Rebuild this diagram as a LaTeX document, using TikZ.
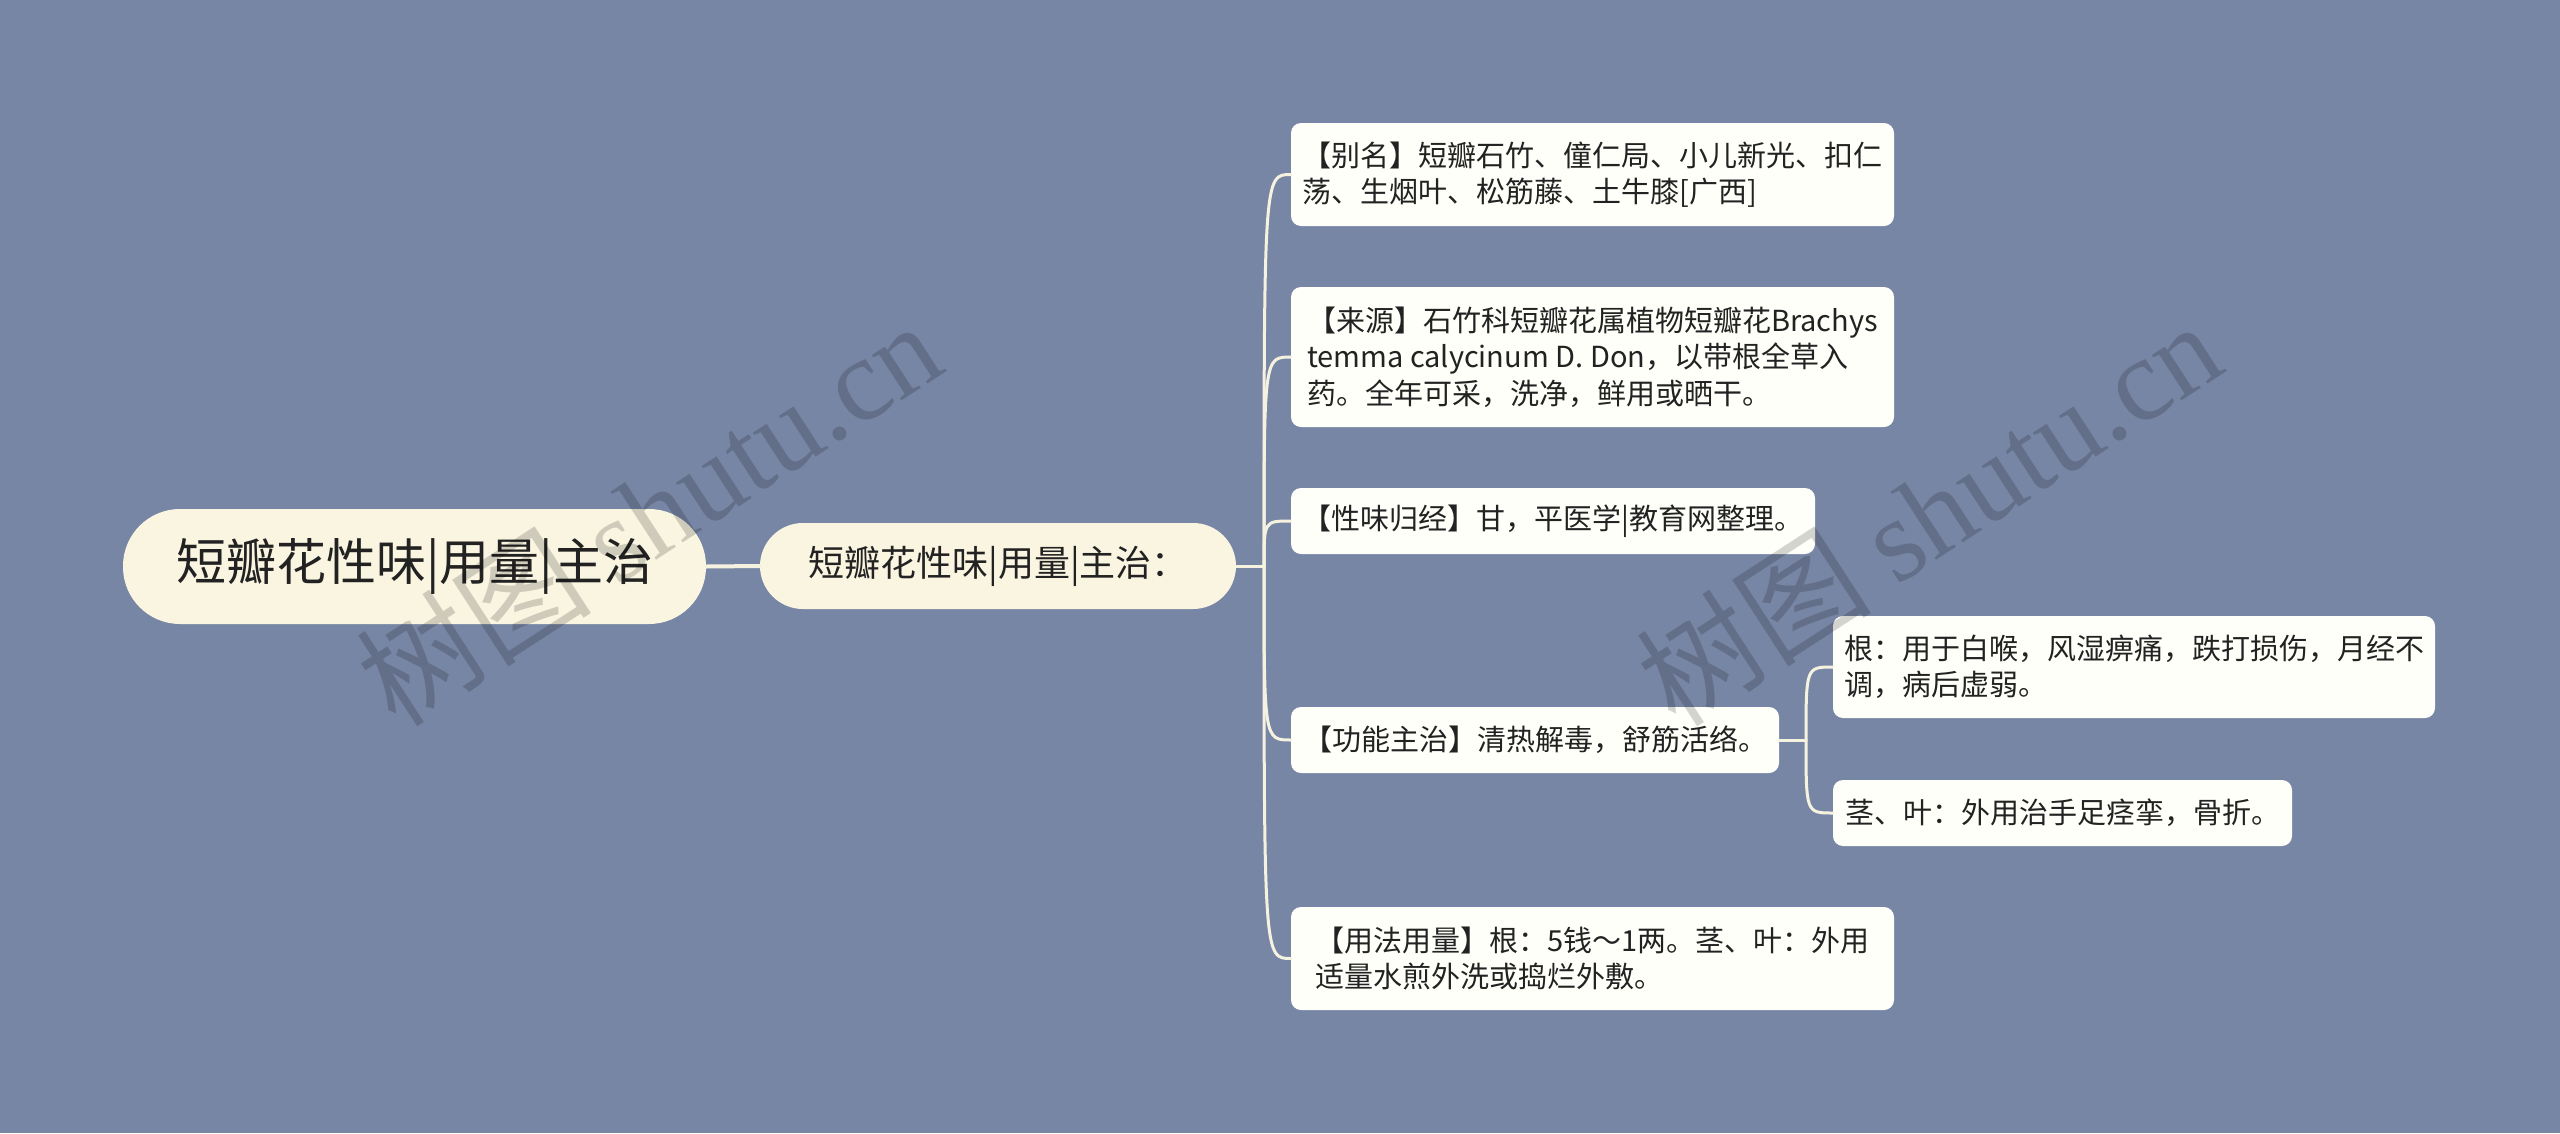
\documentclass[tikz,border=0pt]{standalone}
\usepackage{fontspec}
\setmainfont{Noto Sans CJK SC}
\newfontfamily\wmserif{Liberation Serif}
\definecolor{bgc}{RGB}{120,134,165}
\definecolor{creamfill}{RGB}{250,245,225}
\definecolor{leaffill}{RGB}{255,255,250}
\definecolor{linec}{RGB}{246,242,224}
\definecolor{txt}{RGB}{34,34,34}
\begin{document}
\begin{tikzpicture}[x=1pt,y=-1pt,
  topic/.style={fill=creamfill, inner sep=0pt, text=txt, align=center},
  leaf/.style={fill=leaffill, rounded corners=10pt, inner sep=0pt, text=txt, align=left,
    font=\fontsize{29}{36.5}\selectfont},
  conn/.style={draw=linec, line width=3pt, line cap=round},
  wm/.style={rotate=33, text=black, opacity=0.17, font=\fontsize{118}{124}\selectfont}]
\fill[bgc] (0,0) rectangle (2560,1133);
\useasboundingbox (0,0) rectangle (2560,1133);

% central topics
\node[topic, rounded corners=57pt, minimum width=583pt, minimum height=115pt,
  font=\fontsize{50}{60}\selectfont] (root) at (414.5,566.5) {短瓣花性味|用量|主治};
\node[topic, rounded corners=43pt, minimum width=476pt, minimum height=86pt,
  font=\fontsize{36}{44}\selectfont] (second) at (998,566) {短瓣花性味|用量|主治：};

% children
\node[leaf, minimum width=603pt, minimum height=103pt] (c1) at (1592.5,174.5)
  {【别名】短瓣石竹、僮仁局、小儿新光、扣仁\\荡、生烟叶、松筋藤、土牛膝[广西]};
\node[leaf, minimum width=603pt, minimum height=140pt] (c2) at (1592.5,357)
  {【来源】石竹科短瓣花属植物短瓣花Brachys\\temma calycinum D. Don，以带根全草入\\药。全年可采，洗净，鲜用或晒干。};
\node[leaf, minimum width=524pt, minimum height=66pt] (c3) at (1553,521)
  {【性味归经】甘，平医学|教育网整理。};
\node[leaf, minimum width=488pt, minimum height=66pt] (c4) at (1535,740)
  {【功能主治】清热解毒，舒筋活络。};
\node[leaf, minimum width=603pt, minimum height=103pt] (c5) at (1592.5,958.5)
  {【用法用量】根：5钱～1两。茎、叶：外用\\适量水煎外洗或捣烂外敷。};

% grandchildren
\node[leaf, minimum width=602pt, minimum height=102pt] (g1) at (2134,667)
  {根：用于白喉，风湿痹痛，跌打损伤，月经不\\调，病后虚弱。};
\node[leaf, minimum width=459pt, minimum height=66pt] (g2) at (2062.5,813)
  {茎、叶：外用治手足痉挛，骨折。};

% connectors
\coordinate (b1) at (1264,566);
\coordinate (b2) at (1806,740);
\draw[conn, line width=4pt] (root.east) -- (second.west);
\draw[conn] (second.east) -- (b1);
\foreach \c in {c1,c2,c3,c4,c5}
  \draw[conn] (b1) .. controls (b1 |- \c.west) .. (\c.west);
\draw[conn] (c4.east) -- (b2);
\foreach \c in {g1,g2}
  \draw[conn] (b2) .. controls (b2 |- \c.west) .. (\c.west);

% watermarks
\node[wm] (wm1) at (648,512) {树图 {\wmserif shutu.cn}};
\node[wm] (wm2) at (1928,512) {树图 {\wmserif shutu.cn}};
\end{tikzpicture}
\end{document}
